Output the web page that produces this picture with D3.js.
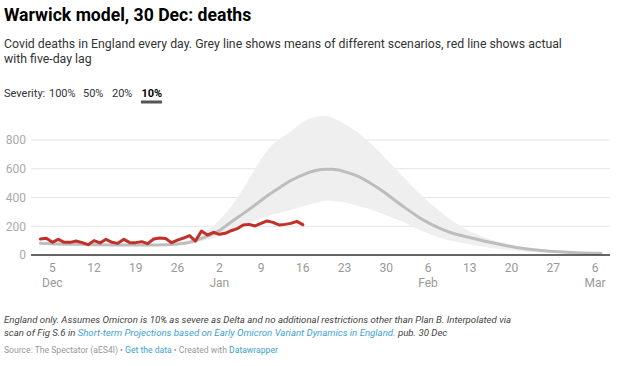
<!DOCTYPE html>
<html>
<head>
<meta charset="utf-8">
<script src="https://cdn.jsdelivr.net/npm/d3@7"></script>
<style>
  html, body { margin: 0; padding: 0; background: #fff; }
  svg { display: block; font-family: Roboto, "Noto Sans", sans-serif; }
</style>
</head>
<body>
<svg id="chart" width="620" height="366"></svg>
<script>
// ---- DATA ----
const actualStart = "2021-12-03";
const actualDeaths = [111,116,88,109,88,88,97,86,72,100,84,109,88,81,109,86,86,93,79,111,118,114,86,104,118,135,97,167,139,158,144,151,169,183,209,213,202,220,237,227,209,213,220,234,211];

const modelDates = ["2021-12-03","2021-12-06","2021-12-09","2021-12-12","2021-12-15","2021-12-18","2021-12-21","2021-12-24","2021-12-26","2021-12-28","2021-12-30","2022-01-01","2022-01-02","2022-01-04","2022-01-06","2022-01-08","2022-01-10","2022-01-12","2022-01-14","2022-01-16","2022-01-18","2022-01-20","2022-01-21","2022-01-23","2022-01-25","2022-01-27","2022-01-29","2022-01-31","2022-02-02","2022-02-04","2022-02-06","2022-02-08","2022-02-10","2022-02-13","2022-02-16","2022-02-19","2022-02-22","2022-02-25","2022-02-28","2022-03-03","2022-03-07"];
const modelMean = [82,76,74,72,70,69,69,71,76,88,115,148,170,230,288,348,410,466,518,558,586,596,596,580,552,508,455,395,333,275,225,185,153,122,92,66,45,31,22,16,12];
const modelLow  = [78,72,70,68,66,65,65,66,68,76,95,115,128,162,200,240,270,292,313,338,360,377,375,365,345,322,292,260,228,185,152,120,98,75,52,36,25,17,12,9,8];
const modelHigh = [86,80,78,76,74,73,74,78,88,108,150,205,245,340,460,600,725,805,860,925,960,967,955,912,860,790,712,625,535,450,372,305,240,165,115,82,56,36,24,17,13];

const yTicks = [0,200,400,600,800];
const xTicks = ["2021-12-05","2021-12-12","2021-12-19","2021-12-26","2022-01-02","2022-01-09","2022-01-16","2022-01-23","2022-01-30","2022-02-06","2022-02-13","2022-02-20","2022-02-27","2022-03-06"];
const monthLabels = {"2021-12-05":"Dec","2022-01-02":"Jan","2022-02-06":"Feb","2022-03-06":"Mar"};
const severities = ["100%","50%","20%","10%"];

// ---- CHART ----
const parse = d3.utcParse("%Y-%m-%d");
const svg = d3.select("#chart");

svg.append("text").attr("x",4).attr("y",20.5)
  .attr("font-size",17.6).attr("font-weight",700).attr("fill","#000")
  .text("Warwick model, 30 Dec: deaths");

const sub = svg.append("text").attr("font-size",12.3).attr("fill","#333");
sub.append("tspan").attr("x",4).attr("y",47.5).text("Covid deaths in England every day. Grey line shows means of different scenarios, red line shows actual");
sub.append("tspan").attr("x",4).attr("y",63).text("with five-day lag");

// Severity buttons
const sev = svg.append("text").attr("y",97).attr("font-size",11).attr("fill","#333");
sev.append("tspan").attr("x",4).text("Severity:");
const sevX = [49, 83, 112, 141.5];
severities.forEach((s,i) => {
  sev.append("tspan").attr("x",sevX[i])
    .attr("font-weight", i===3 ? 700 : 400)
    .attr("fill", i===3 ? "#000" : "#333")
    .text(s);
});
svg.append("rect").attr("x",141).attr("y",100.5).attr("width",21).attr("height",3).attr("fill","#555");

const x = d3.scaleUtc()
  .domain([parse("2021-12-03"), parse("2022-03-07")])
  .range([40.4, 601]);
const y = d3.scaleLinear().domain([0,800]).range([255,140]);

const plotL = 31, plotR = 610;

// gridlines
svg.append("g").selectAll("line").data(yTicks.filter(d=>d>0)).join("line")
  .attr("x1",plotL).attr("x2",plotR)
  .attr("y1",d=>y(d)).attr("y2",d=>y(d))
  .attr("stroke","#e5e5e5").attr("stroke-width",1);

// y labels
svg.append("g").selectAll("text").data(yTicks).join("text")
  .attr("x",26).attr("y",d=>y(d)).attr("dy","0.36em")
  .attr("text-anchor","end").attr("font-size",12).attr("fill","#aaa")
  .text(d=>d);

// model band
const model = modelDates.map((d,i)=>({date:parse(d), mean:modelMean[i], low:modelLow[i], high:modelHigh[i]}));
svg.append("path").datum(model)
  .attr("fill","#efefef")
  .attr("d", d3.area().x(d=>x(d.date)).y0(d=>y(d.low)).y1(d=>y(d.high)).curve(d3.curveMonotoneX));

svg.append("path").datum(model)
  .attr("fill","none").attr("stroke","#bdbdbd").attr("stroke-width",3)
  .attr("stroke-linejoin","round").attr("stroke-linecap","round")
  .attr("d", d3.line().x(d=>x(d.date)).y(d=>y(d.mean)).curve(d3.curveMonotoneX));

// actual
const start = parse(actualStart);
const actual = actualDeaths.map((v,i)=>({date:d3.utcDay.offset(start,i), v}));
svg.append("path").datum(actual)
  .attr("fill","none").attr("stroke","#c1312a").attr("stroke-width",3)
  .attr("stroke-linejoin","round").attr("stroke-linecap","round")
  .attr("d", d3.line().x(d=>x(d.date)).y(d=>y(d.v)));

// baseline
svg.append("line").attr("x1",plotL).attr("x2",plotR).attr("y1",y(0)).attr("y2",y(0))
  .attr("stroke","#333").attr("stroke-width",1.5);

// x ticks
const xg = svg.append("g");
xg.selectAll("text.d").data(xTicks).join("text")
  .attr("x",d=>x(parse(d))).attr("y",272)
  .attr("text-anchor","middle").attr("font-size",12).attr("fill","#999")
  .text(d=>d3.utcFormat("%-d")(parse(d)));
xg.selectAll("text.m").data(xTicks.filter(d=>monthLabels[d])).join("text")
  .attr("x",d=>x(parse(d))).attr("y",287)
  .attr("text-anchor","middle").attr("font-size",12).attr("fill","#999")
  .text(d=>monthLabels[d]);

// notes
const notes = svg.append("text").attr("font-size",9.65).attr("font-style","italic").attr("fill","#444");
notes.append("tspan").attr("x",4).attr("y",323).text("England only. Assumes Omicron is 10% as severe as Delta and no additional restrictions other than Plan B. Interpolated via");
const n2 = notes.append("tspan").attr("x",4).attr("y",335.5);
n2.append("tspan").text("scan of Fig S.6 in ");
n2.append("tspan").attr("fill","#3e9fd0").text("Short-term Projections based on Early Omicron Variant Dynamics in England.");
n2.append("tspan").text(" pub. 30 Dec");

const src = svg.append("text").attr("x",4).attr("y",353).attr("font-size",8.6).attr("fill","#999");
src.append("tspan").text("Source: The Spectator (aES4l) • ");
src.append("tspan").attr("fill","#3e9fd0").text("Get the data");
src.append("tspan").text(" • Created with ");
src.append("tspan").attr("fill","#3e9fd0").text("Datawrapper");
</script>
</body>
</html>
